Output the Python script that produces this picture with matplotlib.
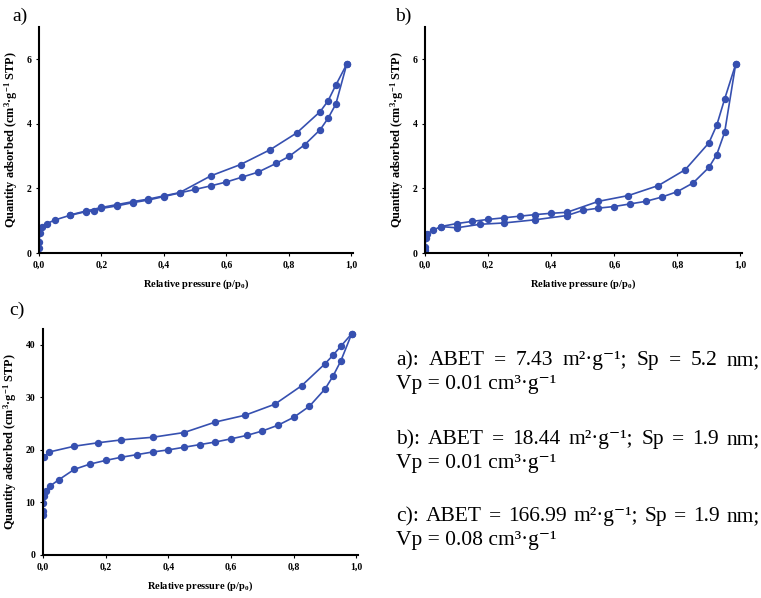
import matplotlib
matplotlib.use('Agg')
import matplotlib.pyplot as plt

plt.rcParams['font.family'] = ['Liberation Serif', 'DejaVu Serif']
plt.rcParams['mathtext.fontset'] = 'custom'
plt.rcParams['mathtext.rm'] = 'Liberation Serif'
plt.rcParams['mathtext.it'] = 'Liberation Serif:italic'
plt.rcParams['mathtext.bf'] = 'Liberation Serif:bold'

# Datos: isotermas (adsorcion / desorcion)
a_ads_x = [0.0, 0.0, 0.003, 0.01, 0.025, 0.05, 0.1, 0.15, 0.175, 0.2, 0.25, 0.3, 0.35, 0.4,
           0.45, 0.5, 0.55, 0.6, 0.65, 0.7, 0.76, 0.8, 0.85, 0.9, 0.925, 0.95, 0.985]
a_ads_y = [0.17, 0.33, 0.61, 0.79, 0.91, 1.02, 1.17, 1.28, 1.31, 1.38, 1.46, 1.56, 1.64, 1.75,
           1.86, 1.97, 2.08, 2.2, 2.35, 2.5, 2.78, 2.99, 3.35, 3.82, 4.17, 4.61, 5.85]
a_des_x = [0.985, 0.95, 0.925, 0.9, 0.825, 0.74, 0.645, 0.55, 0.45, 0.4, 0.35, 0.3, 0.25, 0.2, 0.15, 0.1]
a_des_y = [5.85, 5.2, 4.71, 4.38, 3.72, 3.2, 2.74, 2.39, 1.87, 1.77, 1.67, 1.59, 1.5, 1.41, 1.3, 1.18]

b_ads_x = [0.0, 0.0, 0.003, 0.007, 0.025, 0.05, 0.1, 0.175, 0.25, 0.35, 0.45, 0.5, 0.55, 0.6,
           0.65, 0.7, 0.75, 0.8, 0.85, 0.9, 0.925, 0.95, 0.985]
b_ads_y = [0.1, 0.2, 0.45, 0.6, 0.7, 0.82, 0.78, 0.89, 0.93, 1.03, 1.16, 1.32, 1.39, 1.44,
           1.52, 1.6, 1.73, 1.9, 2.17, 2.65, 3.05, 3.74, 5.85]
b_des_x = [0.985, 0.95, 0.925, 0.9, 0.825, 0.74, 0.645, 0.55, 0.45, 0.4, 0.35, 0.3, 0.25, 0.2, 0.15, 0.1, 0.05]
b_des_y = [5.85, 4.77, 3.96, 3.41, 2.58, 2.09, 1.78, 1.6, 1.26, 1.23, 1.19, 1.14, 1.09, 1.04, 0.98, 0.91, 0.82]

c_ads_x = [0.0, 0.0, 0.001, 0.003, 0.011, 0.022, 0.05, 0.1, 0.15, 0.2, 0.25, 0.3, 0.35, 0.4,
           0.45, 0.5, 0.55, 0.6, 0.65, 0.7, 0.75, 0.8, 0.85, 0.9, 0.925, 0.95, 0.985]
c_ads_y = [7.6, 8.4, 9.95, 11.2, 12.2, 13.1, 14.3, 16.3, 17.3, 18.0, 18.6, 19.1, 19.6, 20.0,
           20.5, 21.0, 21.5, 22.1, 22.75, 23.6, 24.7, 26.2, 28.3, 31.6, 34.0, 36.9, 42.1]
c_des_x = [0.985, 0.95, 0.925, 0.9, 0.825, 0.74, 0.645, 0.55, 0.45, 0.35, 0.25, 0.175, 0.1, 0.02, 0.003]
c_des_y = [42.1, 39.7, 38.0, 36.4, 32.2, 28.7, 26.6, 25.3, 23.3, 22.4, 21.9, 21.35, 20.7, 19.6, 18.6]

x_ticks = [0.0, 0.2, 0.4, 0.6, 0.8, 1.0]
x_tick_labels = ['0,0', '0,2', '0,4', '0,6', '0,8', '1,0']
ab_y_ticks = [0, 2, 4, 6]
c_y_ticks = [0, 10, 20, 30, 40]

info_lines = [
    ('a): ABET = 7.43 m²·g⁻¹; Sp = 5.2 nm;', 'Vp = 0.01 cm³·g⁻¹'),
    ('b): ABET = 18.44 m²·g⁻¹; Sp = 1.9 nm;', 'Vp = 0.01 cm³·g⁻¹'),
    ('c): ABET = 166.99 m²·g⁻¹; Sp = 1.9 nm;', 'Vp = 0.08 cm³·g⁻¹'),
]

color = '#3650B0'
W, H = 761, 598
fig = plt.figure(figsize=(W / 100, H / 100), dpi=100)


def panel(rect, ads_x, ads_y, des_x, des_y, yticks, ymax):
    ax = fig.add_axes(rect)
    ax.plot(ads_x, ads_y, color=color, lw=1.2, marker='o', ms=4.3)
    ax.plot(des_x, des_y, color=color, lw=1.2, marker='o', ms=4.3)
    ax.set_xlim(0, 1.005)
    ax.set_ylim(0, ymax)
    ax.set_xticks(x_ticks)
    ax.set_xticklabels(x_tick_labels)
    ax.set_yticks(yticks)
    for s in ['top', 'right']:
        ax.spines[s].set_visible(False)
    for s in ['left', 'bottom']:
        ax.spines[s].set_linewidth(1.5)
    ax.tick_params(direction='out', length=2.5, width=0.8, labelsize=7, pad=3)
    for lab in ax.get_xticklabels() + ax.get_yticklabels():
        lab.set_fontweight('bold')
    ax.set_xlabel('Relative pressure (p/p$_{\\mathbf{0}}$)', fontsize=7.5, fontweight='bold', labelpad=6)
    ax.set_ylabel('Quantity adsorbed (cm$^{\\mathbf{3}}$·g$^{\\mathbf{-1}}$ STP)', fontsize=8.8,
                  fontweight='bold', labelpad=5)
    return ax


panel([39 / W, 1 - 253 / H, 314 / W, 226 / H], a_ads_x, a_ads_y, a_des_x, a_des_y, ab_y_ticks, 7)
panel([425 / W, 1 - 253 / H, 317 / W, 226 / H], b_ads_x, b_ads_y, b_des_x, b_des_y, ab_y_ticks, 7)
panel([43 / W, 1 - 555 / H, 315 / W, 226 / H], c_ads_x, c_ads_y, c_des_x, c_des_y, c_y_ticks, 43)

fig.text(12 / W, 1 - 21 / H, 'a)', fontsize=14, va='baseline')
fig.text(395 / W, 1 - 21 / H, 'b)', fontsize=14, va='baseline')
fig.text(9 / W, 1 - 315 / H, 'c)', fontsize=14, va='baseline')

# Texto justificado a la derecha de la grafica c
renderer = fig.canvas.get_renderer()
x0, x1 = 396, 760
baselines = [(365, 389), (444, 468), (521, 545)]
for (first, second), (yb1, yb2) in zip(info_lines, baselines):
    words = first.split(' ')
    texts = [fig.text(0, 1 - yb1 / H, w, fontsize=15.5, va='baseline') for w in words]
    widths = [t.get_window_extent(renderer).width for t in texts]
    gap = (x1 - x0 - sum(widths)) / (len(words) - 1)
    x = x0
    for t, w in zip(texts, widths):
        t.set_x(x / W)
        x += w + gap
    fig.text(x0 / W, 1 - yb2 / H, second, fontsize=15.5, va='baseline')

fig.savefig('out.png', dpi=100)
